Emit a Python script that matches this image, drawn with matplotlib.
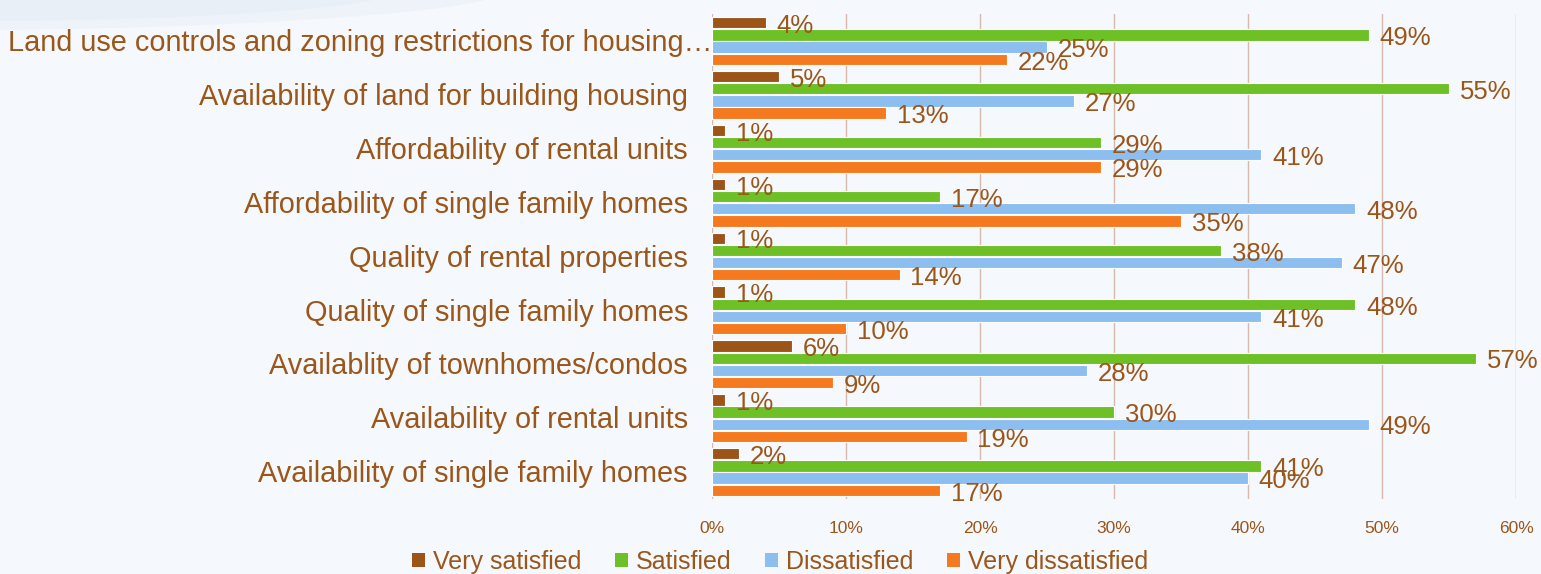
import numpy as np
import matplotlib.pyplot as plt
from matplotlib.patches import Patch, Ellipse
from matplotlib.transforms import blended_transform_factory

plt.rcParams['font.family'] = ['Liberation Sans', 'DejaVu Sans']

# Data (top to bottom as shown)
categories = [
    "Land use controls and zoning restrictions for housing\u2026",
    "Availability of land for building housing",
    "Affordability of rental units",
    "Affordability of single family homes",
    "Quality of rental properties",
    "Quality of single family homes",
    "Availablity of townhomes/condos",
    "Availability of rental units",
    "Availability of single family homes",
]
series_names = ["Very satisfied", "Satisfied", "Dissatisfied", "Very dissatisfied"]
very_satisfied = [4, 5, 1, 1, 1, 1, 6, 1, 2]
satisfied = [49, 55, 29, 17, 38, 48, 57, 30, 41]
dissatisfied = [25, 27, 41, 48, 47, 41, 28, 49, 40]
very_dissatisfied = [22, 13, 29, 35, 14, 10, 9, 19, 17]

colors = ["#9C5418", "#6DC026", "#8CBEF0", "#F5791E"]
text_color = "#9B561A"
bg = "#F5F8FC"

fig = plt.figure(figsize=(15.41, 5.74), dpi=100, facecolor=bg)

# faint decorative swoosh in the top-left corner
for w, h, a in [(0.55, 0.10, 0.25), (0.40, 0.07, 0.25)]:
    fig.patches.append(Ellipse((0.05, 1.0), w, h, angle=3, transform=fig.transFigure,
                               facecolor="#DCE6F4", edgecolor="none", alpha=a, zorder=0))

ax = fig.add_axes([712 / 1541, 1 - 499 / 574, (1516 - 712) / 1541, (499 - 14) / 574])
ax.set_facecolor(bg)

y = np.arange(len(categories))
offsets = [-0.34, -0.113, 0.113, 0.34]
values = [very_satisfied, satisfied, dissatisfied, very_dissatisfied]

for vals, off, col in zip(values, offsets, colors):
    bars = ax.barh(y + off, vals, height=0.21, color=col, edgecolor="white", linewidth=0.8, zorder=3)
    for b, v in zip(bars, vals):
        ax.text(v + 0.8, b.get_y() + b.get_height() / 2 + 0.06, f"{v}%",
                va="center", ha="left", fontsize=18.5, color=text_color, zorder=4)

ax.set_ylim(len(categories) - 0.5, -0.5)
ax.set_xlim(0, 60)
ax.set_xticks(np.arange(0, 61, 10))
ax.set_xticklabels([f"{t}%" for t in range(0, 61, 10)], fontsize=12.5, color=text_color)
ax.set_yticks(y)
ax.set_yticklabels([])
ax.tick_params(axis="y", length=0)
ax.tick_params(axis="x", length=0, pad=16)
ax.grid(axis="x", color="#D8B9AE", linewidth=1, zorder=0)
for s in ax.spines.values():
    s.set_visible(False)

# category labels, right aligned left of the axis (the long first one sits closer)
trans = blended_transform_factory(fig.transFigure, ax.transData)
for i, cat in enumerate(categories):
    xpix = 712 if i == 0 else 688
    ax.text(xpix / 1541, i + 0.04, cat, transform=trans,
            ha="right", va="center", fontsize=20.8, color=text_color)

handles = [Patch(facecolor=c, edgecolor="none") for c in colors]
fig.legend(handles, series_names, loc="center", bbox_to_anchor=(780 / 1541, 1 - 562 / 574),
           ncol=4, frameon=False, fontsize=18, labelcolor=text_color,
           handlelength=0.52, handleheight=0.52, handletextpad=0.3, columnspacing=1.36,
           borderpad=0, borderaxespad=0)

fig.savefig("out.png", dpi=100, facecolor=bg)
